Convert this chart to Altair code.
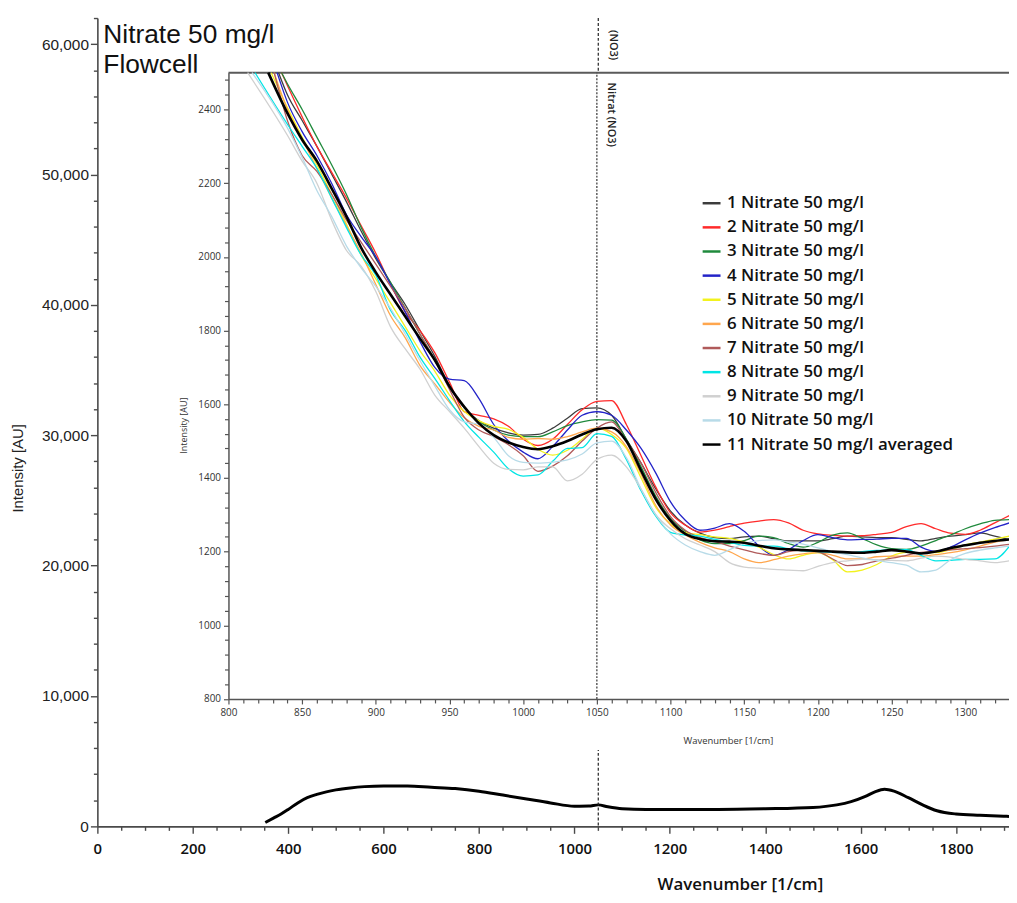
import altair as alt
import pandas as pd

# ---------------- text ----------------
TITLE_TEXT = "Nitrate 50 mg/l\nFlowcell"
NITRATE_WN = 1050
MAIN_MARKER_LABEL = "(NO3)"
INSET_MARKER_LABEL = "Nitrat (NO3)"

# ---------------- main spectrum (averaged) ----------------
MAIN_WN = [352, 370, 385, 400, 420, 440, 460, 480, 500, 530, 560, 600, 650, 700, 750,
           800, 850, 900, 950, 1000, 1030, 1050, 1070, 1100, 1150, 1200, 1300, 1400,
           1500, 1550, 1580, 1610, 1630, 1650, 1670, 1700, 1730, 1760, 1800, 1850, 1900, 1911]
MAIN_INT = [300, 650, 950, 1300, 1800, 2200, 2450, 2650, 2800, 2950, 3050, 3100, 3100, 3000, 2900,
            2700, 2400, 2100, 1800, 1550, 1560, 1650, 1500, 1350, 1300, 1300, 1300, 1350,
            1450, 1650, 1900, 2300, 2650, 2850, 2700, 2200, 1650, 1200, 950, 850, 780, 760]

# ---------------- inset spectra ----------------
SERIES_NAMES = ["1 Nitrate 50 mg/l", "2 Nitrate 50 mg/l", "3 Nitrate 50 mg/l",
                "4 Nitrate 50 mg/l", "5 Nitrate 50 mg/l", "6 Nitrate 50 mg/l",
                "7 Nitrate 50 mg/l", "8 Nitrate 50 mg/l", "9 Nitrate 50 mg/l",
                "10 Nitrate 50 mg/l", "11 Nitrate 50 mg/l averaged"]
SERIES_COLORS = ["#3c3c3c", "#ff2a2a", "#1f8a3c", "#2323c8", "#f2f21e", "#ffa64d",
                 "#b05a5a", "#00e5e5", "#d0d0d0", "#b8dbe8", "#000000"]
# wavenumber where each curve enters the inset from its top edge (intensity 2500)
ENTRY_WN = [834, 836, 836, 833, 829, 831, 831, 818, 813, 816, 827]
ENTRY_INT = 2500

INSET_WN = [840, 850, 860, 870, 880, 890, 900, 910, 920, 930,
            940, 950, 960, 970, 980, 990, 1000, 1010, 1020, 1030,
            1040, 1050, 1060, 1070, 1080, 1090, 1100, 1110, 1120, 1130,
            1140, 1150, 1160, 1170, 1180, 1190, 1200, 1210, 1220, 1230,
            1240, 1250, 1260, 1270, 1280, 1290, 1300, 1310, 1320, 1330]

S1 = [2440, 2370, 2300, 2225, 2150, 2070, 1995, 1930, 1870, 1800,
      1730, 1650, 1590, 1555, 1535, 1522, 1516, 1518, 1535, 1562,
      1588, 1590, 1570, 1505, 1440, 1370, 1310, 1272, 1250, 1238,
      1235, 1240, 1242, 1235, 1229, 1229, 1229, 1235, 1242, 1240,
      1238, 1238, 1233, 1229, 1236, 1242, 1246, 1251, 1242, 1233]
S2 = [2465, 2380, 2300, 2230, 2160, 2085, 2010, 1925, 1850, 1800,
      1740, 1660, 1580, 1570, 1560, 1540, 1505, 1488, 1505, 1545,
      1585, 1608, 1610, 1545, 1460, 1375, 1305, 1272, 1253, 1258,
      1268, 1277, 1283, 1287, 1278, 1258, 1248, 1244, 1242, 1243,
      1247, 1252, 1268, 1276, 1262, 1250, 1247, 1258, 1278, 1298]
S3 = [2470, 2400, 2325, 2250, 2170, 2080, 2000, 1930, 1860, 1790,
      1720, 1650, 1590, 1553, 1530, 1516, 1512, 1512, 1525, 1542,
      1552, 1558, 1557, 1505, 1430, 1350, 1290, 1255, 1232, 1222,
      1222, 1230, 1242, 1238, 1222, 1212, 1225, 1245, 1251, 1236,
      1218, 1208, 1206, 1215, 1230, 1245, 1262, 1275, 1285, 1287]
S4 = [2420, 2340, 2275, 2200, 2115, 2055, 2000, 1925, 1850, 1770,
      1700, 1668, 1664, 1615, 1545, 1500, 1470, 1452, 1485, 1530,
      1570, 1580, 1570, 1530, 1480, 1413, 1335, 1285, 1258, 1264,
      1276, 1255, 1215, 1190, 1205, 1230, 1246, 1238, 1232, 1233,
      1234, 1236, 1236, 1212, 1200, 1212, 1232, 1250, 1265, 1278]
S5 = [2405, 2325, 2250, 2170, 2090, 2005, 1940, 1875, 1810, 1745,
      1690, 1625, 1580, 1555, 1540, 1532, 1510, 1478, 1462, 1475,
      1505, 1535, 1518, 1480, 1400, 1320, 1275, 1252, 1246, 1240,
      1236, 1226, 1212, 1192, 1180, 1190, 1197, 1178, 1145, 1150,
      1165, 1188, 1198, 1197, 1197, 1205, 1218, 1226, 1234, 1242]
S6 = [2400, 2320, 2240, 2160, 2085, 2010, 1925, 1840, 1780, 1705,
      1655, 1605, 1563, 1540, 1530, 1510, 1505, 1507, 1505, 1512,
      1525, 1535, 1525, 1485, 1410, 1325, 1272, 1245, 1225, 1210,
      1200, 1180, 1170, 1178, 1188, 1194, 1197, 1190, 1180, 1180,
      1186, 1188, 1188, 1188, 1192, 1197, 1205, 1215, 1226, 1233]
S7 = [2370, 2275, 2232, 2170, 2100, 2040, 1980, 1920, 1860, 1790,
      1720, 1640, 1565, 1530, 1512, 1490, 1460, 1418, 1432, 1460,
      1500, 1535, 1552, 1500, 1440, 1360, 1295, 1258, 1238, 1228,
      1215, 1205, 1195, 1190, 1200, 1205, 1200, 1180, 1162, 1165,
      1175, 1182, 1190, 1198, 1200, 1205, 1208, 1211, 1215, 1220]
S8 = [2360, 2300, 2240, 2160, 2080, 2005, 1950, 1855, 1800, 1728,
      1670, 1610, 1553, 1510, 1470, 1425, 1405, 1408, 1445, 1480,
      1482, 1520, 1513, 1450, 1365, 1296, 1252, 1245, 1242, 1233,
      1225, 1217, 1215, 1215, 1208, 1202, 1200, 1198, 1197, 1200,
      1203, 1205, 1205, 1190, 1175, 1176, 1179, 1179, 1180, 1215]
S9 = [2330, 2260, 2200, 2100, 2018, 1975, 1906, 1810, 1750, 1695,
      1625, 1580, 1535, 1485, 1440, 1423, 1422, 1430, 1430, 1392,
      1410, 1450, 1462, 1430, 1370, 1300, 1262, 1235, 1218, 1200,
      1170, 1158, 1155, 1152, 1150, 1148, 1160, 1170, 1175, 1179,
      1178, 1176, 1175, 1182, 1188, 1185, 1179, 1175, 1170, 1175]
S10 = [2350, 2270, 2180, 2110, 2030, 1970, 1920, 1860, 1790, 1718,
       1650, 1585, 1552, 1545, 1510, 1460, 1442, 1440, 1443, 1449,
       1465, 1495, 1500, 1455, 1370, 1300, 1248, 1218, 1200, 1190,
       1205, 1222, 1230, 1232, 1226, 1220, 1210, 1200, 1192, 1183,
       1176, 1170, 1163, 1145, 1150, 1178, 1195, 1204, 1210, 1215]
S11 = [2390, 2318, 2260, 2186, 2110, 2025, 1958, 1898, 1838, 1778,
       1720, 1648, 1593, 1548, 1516, 1496, 1484, 1478, 1486, 1500,
       1518, 1532, 1536, 1500, 1420, 1342, 1284, 1248, 1234, 1228,
       1227, 1224, 1216, 1209, 1206, 1204, 1202, 1200, 1198, 1197,
       1200, 1204, 1200, 1195, 1200, 1210, 1217, 1224, 1229, 1233]
SERIES_VALUES = [S1, S2, S3, S4, S5, S6, S7, S8, S9, S10, S11]

# ---------------- axes ticks ----------------
MAIN_X_TICKS = list(range(0, 1901, 50))
MAIN_Y_TICKS = list(range(0, 62001, 2000))
INSET_X_TICKS = list(range(800, 1331, 10))
INSET_Y_TICKS = list(range(800, 2481, 40))

# ---------------- build tables ----------------
main_df = pd.DataFrame({"wn": MAIN_WN, "inten": MAIN_INT})
rows = []
for name, ex, vals in zip(SERIES_NAMES, ENTRY_WN, SERIES_VALUES):
    rows.append({"series": name, "wn": ex, "inten": ENTRY_INT})
    for w, v in zip(INSET_WN, vals):
        rows.append({"series": name, "wn": w, "inten": v})
inset_df = pd.DataFrame(rows)

W, H = 918, 814
AXIS_GREY = "#4a4a4a"

main_x_scale = alt.Scale(domain=[0, 1911], nice=False, zero=False)
main_y_scale = alt.Scale(domain=[0, 62000], nice=False, zero=False)
inset_x_scale = alt.Scale(domain=[800, 1330], range=[132, 918.5], nice=False, zero=False)
inset_y_scale = alt.Scale(domain=[800, 2500], range=[685.7, 55], nice=False, zero=False)

main_x_axis = alt.Axis(
    values=MAIN_X_TICKS,
    labelExpr="datum.value % 200 === 0 ? format(datum.value, 'd') : ''",
    tickSize={"condition": {"test": "datum.value % 200 === 0", "value": 7}, "value": 4},
    labelFont="Open Sans", labelFontSize=15, labelFontWeight=600, labelColor="#111",
    labelPadding=8, labelOverlap=False, labelFlush=False,
    domainColor=AXIS_GREY, domainWidth=1.6, tickColor=AXIS_GREY, tickWidth=1.4,
    grid=False, title="Wavenumber [1/cm]", titleFont="Open Sans", titleFontSize=17,
    titleFontWeight=600, titleColor="#111", titleX=647, titleY=59,
    titleAlign="center", titleBaseline="middle")
main_y_axis = alt.Axis(
    values=MAIN_Y_TICKS,
    labelExpr="datum.value % 10000 === 0 ? format(datum.value, ',') : ''",
    tickSize={"condition": {"test": "datum.value % 10000 === 0", "value": 7}, "value": 4},
    labelFont="Liberation Sans", labelFontSize=15.5, labelColor="#222",
    labelPadding=2, labelOverlap=False, labelFlush=False,
    domainColor=AXIS_GREY, domainWidth=1.6, tickColor=AXIS_GREY, tickWidth=1.4,
    grid=False, title="Intensity [AU]", titleFont="Liberation Sans", titleFontSize=15,
    titleFontWeight="normal", titleColor="#222", titleX=-80, titleY=453,
    titleAlign="center", titleBaseline="middle", titleAngle=270)

main_line = alt.Chart(main_df).mark_line(color="#000", strokeWidth=3, interpolate="monotone").encode(
    x=alt.X("wn:Q", scale=main_x_scale, axis=main_x_axis),
    y=alt.Y("inten:Q", scale=main_y_scale, axis=main_y_axis),
)
main_rule = alt.Chart(pd.DataFrame({"wn": [NITRATE_WN]})).mark_rule(
    color="#222", strokeWidth=1.2, strokeDash=[3, 2]).encode(
    x=alt.X("wn:Q", scale=main_x_scale, axis=main_x_axis))
main_marker_text = alt.Chart(pd.DataFrame({"wn": [NITRATE_WN], "lab": [MAIN_MARKER_LABEL]})).mark_text(
    angle=90, align="left", baseline="middle", dy=-15, fontSize=11, font="Open Sans",
    fontWeight=600, color="#222").encode(
    x=alt.X("wn:Q", scale=main_x_scale, axis=main_x_axis), y=alt.value(12), text="lab:N")
title_text = alt.Chart(pd.DataFrame({"t": [TITLE_TEXT]})).mark_text(
    align="left", baseline="alphabetic", fontSize=26.5, font="Liberation Sans",
    color="#111", lineBreak="\n", lineHeight=30).encode(
    x=alt.value(6), y=alt.value(25), text="t:N")

main_layer = alt.layer(main_line, main_rule, main_marker_text, title_text)

# ---------------- inset ----------------
inset_x_axis = alt.Axis(
    orient="bottom", offset=-128.3, values=INSET_X_TICKS, zindex=2,
    labelExpr="datum.value % 50 === 0 ? format(datum.value, 'd') : ''",
    tickSize={"condition": {"test": "datum.value % 50 === 0", "value": 5}, "value": 4},
    labelFont="Open Sans", labelFontSize=10, labelColor="#333", labelPadding=4,
    labelOverlap=False, labelFlush=False,
    domainColor="#555", domainWidth=1.5, tickColor="#555", tickWidth=1.2, grid=False,
    title="Wavenumber [1/cm]", titleFont="Open Sans", titleFontSize=9.5, titleFontWeight="normal",
    titleColor="#333", titleX=635, titleY=42, titleAlign="center", titleBaseline="middle")
inset_y_axis = alt.Axis(
    orient="left", offset=-132, values=INSET_Y_TICKS, zindex=2,
    labelExpr="datum.value % 200 === 0 ? format(datum.value, 'd') : ''",
    tickSize={"condition": {"test": "datum.value % 200 === 0", "value": 5}, "value": 4},
    labelFont="Open Sans", labelFontSize=10, labelColor="#333", labelPadding=3,
    labelOverlap=False, labelFlush=False,
    domainColor="#555", domainWidth=1.5, tickColor="#555", tickWidth=1.2, grid=False,
    title="Intensity [AU]", titleFont="Open Sans", titleFontSize=9, titleFontWeight="normal",
    titleColor="#333", titleX=-45, titleY=410, titleAlign="center", titleBaseline="middle",
    titleAngle=270)

inset_bg = alt.Chart(pd.DataFrame({"k": [0]})).mark_rect(color="white").encode(
    x=alt.value(77), x2=alt.value(918), y=alt.value(55), y2=alt.value(737))
inset_top = alt.Chart(pd.DataFrame({"wn": [800], "wn2": [1330], "inten": [2500]})).mark_rule(
    color="#5a5a5a", strokeWidth=2).encode(
    x=alt.X("wn:Q", scale=inset_x_scale, axis=inset_x_axis), x2="wn2:Q",
    y=alt.Y("inten:Q", scale=inset_y_scale, axis=inset_y_axis))
inset_lines = alt.Chart(inset_df).mark_line(interpolate="monotone").encode(
    x=alt.X("wn:Q", scale=inset_x_scale, axis=inset_x_axis),
    y=alt.Y("inten:Q", scale=inset_y_scale, axis=inset_y_axis),
    color=alt.Color("series:N", sort=SERIES_NAMES,
                    scale=alt.Scale(domain=SERIES_NAMES, range=SERIES_COLORS),
                    legend=alt.Legend(orient="none", legendX=608, legendY=176, title=None,
                                      symbolType="stroke", symbolSize=324, symbolStrokeWidth=2.5,
                                      labelFont="Open Sans", labelFontSize=17, labelFontWeight=600,
                                      labelColor="#111", labelOffset=5, rowPadding=5.3,
                                      padding=0, labelLimit=400)),
    strokeWidth=alt.condition(alt.datum.series == SERIES_NAMES[-1], alt.value(2.6), alt.value(1.3)),
    detail="series:N",
)
inset_rule = alt.Chart(pd.DataFrame({"wn": [NITRATE_WN], "inten": [800], "inten2": [2500]})).mark_rule(
    color="#333", strokeWidth=1.2, strokeDash=[2, 1.5]).encode(
    x=alt.X("wn:Q", scale=inset_x_scale, axis=inset_x_axis),
    y=alt.Y("inten:Q", scale=inset_y_scale, axis=inset_y_axis), y2="inten2:Q")
inset_marker_text = alt.Chart(pd.DataFrame({"wn": [NITRATE_WN], "lab": [INSET_MARKER_LABEL]})).mark_text(
    angle=90, align="left", baseline="middle", dy=-14, fontSize=11, font="Open Sans",
    fontWeight=600, color="#222").encode(
    x=alt.X("wn:Q", scale=inset_x_scale, axis=inset_x_axis), y=alt.value(65), text="lab:N")

inset_layer = alt.layer(inset_bg, inset_top, inset_rule, inset_lines, inset_marker_text)

chart = alt.layer(main_layer, inset_layer).resolve_scale(
    x="independent", y="independent"
).properties(
    width=W, height=H,
    autosize=alt.AutoSizeParams(type="none"),
    padding={"left": 90, "top": 7, "right": 0, "bottom": 66},
    background="white",
).configure_view(stroke=None)

chart.save("out.html", embed_options={"renderer": "svg", "actions": False})
